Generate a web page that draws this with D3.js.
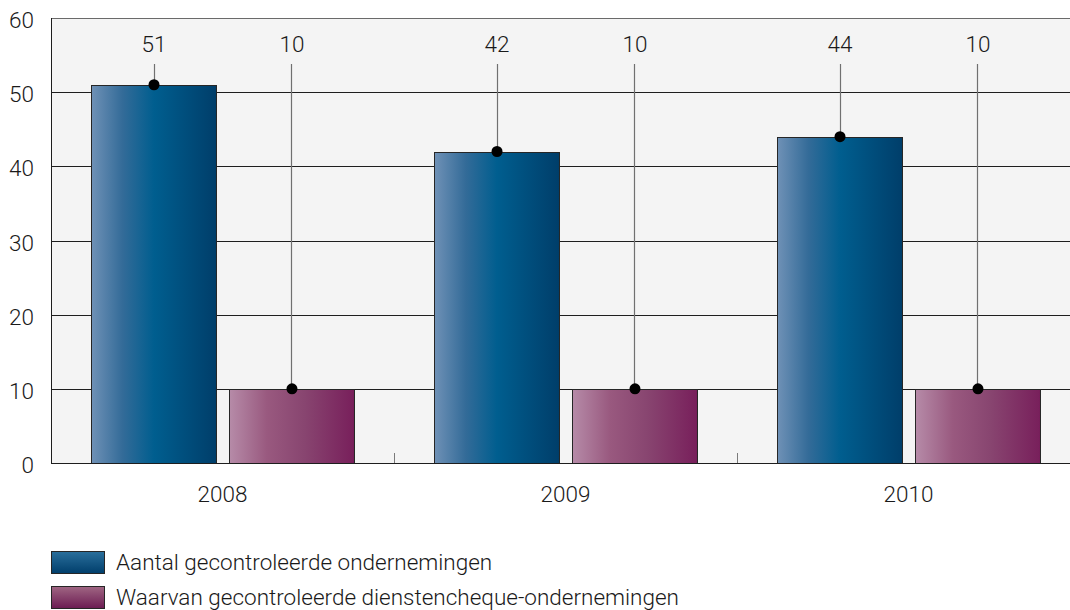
<!DOCTYPE html>
<html>
<head>
<meta charset="utf-8">
<script src="https://cdn.jsdelivr.net/npm/d3@7"></script>
<style>
  body { margin: 0; background: #fff; }
  svg text { font-family: "Roboto", sans-serif; font-weight: 300; fill: #1a1a1a; }
</style>
</head>
<body>
<div id="chart"></div>
<script>
const years = ['2008', '2009', '2010'];
const seriesNames = ['Aantal gecontroleerde ondernemingen', 'Waarvan gecontroleerde dienstencheque-ondernemingen'];
const totalValues = [51, 42, 44];
const dienstenValues = [10, 10, 10];
const yTicks = [0, 10, 20, 30, 40, 50, 60];

const width = 1070, height = 610;
const margin = {top: 18, right: -10, bottom: 147, left: 51};
const plotW = width - margin.left - margin.right;
const plotH = height - margin.top - margin.bottom;

const svg = d3.select('#chart').append('svg')
    .attr('width', width)
    .attr('height', height);

const defs = svg.append('defs');

function hGrad(id, stops) {
    const g = defs.append('linearGradient').attr('id', id)
        .attr('x1', '0%').attr('x2', '100%').attr('y1', '0%').attr('y2', '0%');
    stops.forEach(s => g.append('stop').attr('offset', s[0]).attr('stop-color', s[1]));
}
function vGrad(id, stops) {
    const g = defs.append('linearGradient').attr('id', id)
        .attr('x1', '0%').attr('x2', '0%').attr('y1', '0%').attr('y2', '100%');
    stops.forEach(s => g.append('stop').attr('offset', s[0]).attr('stop-color', s[1]));
}
hGrad('blueBar', [['0%', '#6f91b6'], ['25%', '#336b98'], ['50%', '#005e8f'], ['100%', '#003e6a']]);
hGrad('purpleBar', [['0%', '#b68ba8'], ['30%', '#99597f'], ['60%', '#884570'], ['100%', '#781f5b']]);
vGrad('blueKey', [['0%', '#2a6f9c'], ['100%', '#003e6b']]);
vGrad('purpleKey', [['0%', '#a06683'], ['100%', '#6b1b52']]);

const colors = ['url(#blueBar)', 'url(#purpleBar)'];
const keyColors = ['url(#blueKey)', 'url(#purpleKey)'];

const g = svg.append('g').attr('transform', `translate(${margin.left},${margin.top})`);

const x0 = d3.scaleBand().domain(years).range([0, 1029]);
const x1 = d3.scaleBand().domain([0, 1]).range([0, x0.bandwidth()])
    .paddingInner(13 / 138).paddingOuter(0.29);
const y = d3.scaleLinear().domain([0, 60]).range([plotH, 0]);

// plot background
g.append('rect')
    .attr('width', plotW + 20).attr('height', plotH)
    .attr('fill', '#f4f4f4');

// gridlines
g.selectAll('.grid').data(yTicks.filter(t => t > 0 && t < 60)).enter()
    .append('line')
    .attr('x1', 0).attr('x2', plotW + 20)
    .attr('y1', d => Math.round(y(d)) + 0.5).attr('y2', d => Math.round(y(d)) + 0.5)
    .attr('stroke', '#1e1e1e').attr('stroke-width', 1);

// top border
g.append('line')
    .attr('x1', 0).attr('x2', plotW + 20)
    .attr('y1', 0.5).attr('y2', 0.5)
    .attr('stroke', '#6a6a6a');

// category separator ticks
g.selectAll('.sep').data(years.slice(1)).enter()
    .append('line')
    .attr('x1', d => Math.round(x0(d)) + 0.5).attr('x2', d => Math.round(x0(d)) + 0.5)
    .attr('y1', plotH - 10).attr('y2', plotH)
    .attr('stroke', '#7a7a7a');

const rows = years.map((yr, i) => ({year: yr, values: [totalValues[i], dienstenValues[i]]}));

const groups = g.selectAll('.grp').data(rows).enter()
    .append('g')
    .attr('transform', d => `translate(${x0(d.year)},0)`);

const cells = groups.selectAll('.cell')
    .data(d => d.values.map((v, k) => ({k, v})))
    .enter().append('g');

cells.append('rect')
    .attr('x', d => Math.round(x1(d.k)) + 0.5)
    .attr('y', d => Math.round(y(d.v)) + 0.5)
    .attr('width', x1.bandwidth())
    .attr('height', d => plotH - Math.round(y(d.v)))
    .attr('fill', d => colors[d.k])
    .attr('stroke', '#262626').attr('stroke-width', 1);

// drop lines from labels
cells.append('line')
    .attr('x1', d => Math.round(x1(d.k) + x1.bandwidth() / 2) + 0.5)
    .attr('x2', d => Math.round(x1(d.k) + x1.bandwidth() / 2) + 0.5)
    .attr('y1', 46)
    .attr('y2', d => y(d.v))
    .attr('stroke', '#707070').attr('stroke-width', 1.2);

cells.append('circle')
    .attr('cx', d => x1(d.k) + x1.bandwidth() / 2 + 0.5)
    .attr('cy', d => y(d.v))
    .attr('r', 5.5)
    .attr('fill', '#000');

cells.append('text')
    .attr('x', d => x1(d.k) + x1.bandwidth() / 2 + 0.5)
    .attr('y', 34)
    .attr('text-anchor', 'middle')
    .style('font-size', '22.5px')
    .text(d => d.v);

// axes lines
g.append('line')
    .attr('x1', 0).attr('x2', plotW + 20)
    .attr('y1', plotH + 0.5).attr('y2', plotH + 0.5)
    .attr('stroke', '#1e1e1e');
g.append('line')
    .attr('x1', 0.5).attr('x2', 0.5)
    .attr('y1', 0).attr('y2', plotH)
    .attr('stroke', '#1e1e1e');

// y tick labels
g.selectAll('.ylab').data(yTicks).enter()
    .append('text')
    .attr('x', -17)
    .attr('y', d => y(d) + 10)
    .attr('text-anchor', 'end')
    .style('font-size', '22.5px')
    .text(d => d);

// x labels
g.selectAll('.xlab').data(years).enter()
    .append('text')
    .attr('x', d => x0(d) + x0.bandwidth() / 2)
    .attr('y', plotH + 39)
    .attr('text-anchor', 'middle')
    .style('font-size', '22.5px')
    .text(d => d);

// legend
const legend = svg.append('g').attr('transform', 'translate(51,551)');
const item = legend.selectAll('.key').data(seriesNames).enter()
    .append('g')
    .attr('transform', (d, i) => `translate(0,${i * 35})`);
item.append('rect')
    .attr('x', 0.5).attr('y', 0.5)
    .attr('width', 53).attr('height', 22)
    .attr('fill', (d, i) => keyColors[i])
    .attr('stroke', '#262626');
item.append('text')
    .attr('x', 65).attr('y', 19)
    .style('font-size', '22.5px')
    .text(d => d);
</script>
</body>
</html>
